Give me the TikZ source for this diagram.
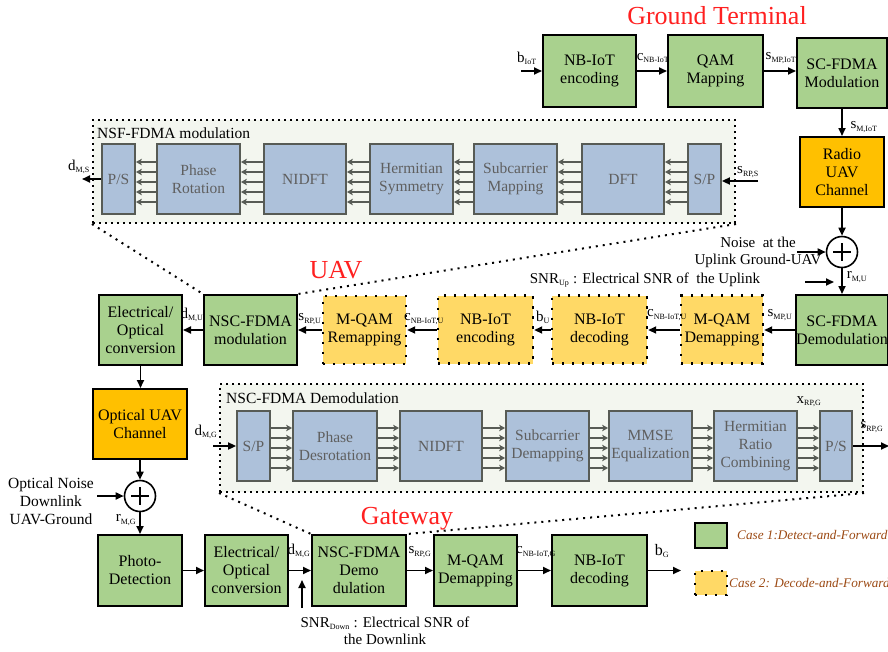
\documentclass[tikz,border=0pt]{standalone}
\usepackage{fontspec}
\setmainfont{Liberation Serif}
\usetikzlibrary{arrows.meta,calc}
\definecolor{gfill}{HTML}{A9D18E}
\definecolor{yfill}{HTML}{FFD966}
\definecolor{ofill}{HTML}{FFC000}
\definecolor{bfill}{HTML}{ADC1DA}
\definecolor{bdraw}{HTML}{575B55}
\definecolor{btext}{HTML}{5F5F5F}
\definecolor{rfill}{HTML}{F3F6EF}
\definecolor{tred}{HTML}{FF2020}
\definecolor{lbrown}{HTML}{9C4A14}
\newcommand\sbs[1]{\textsubscript{\fontsize{8}{8}\selectfont #1}}
\newcommand\fsb{\fontsize{16}{18}\selectfont}
\newcommand\fsm{\fontsize{15.5}{18}\selectfont}
\newcommand\fsl{\fontsize{15}{17}\selectfont}
\tikzset{
  gbox/.style={draw=black, line width=2pt, fill=gfill, inner sep=0pt, align=center, font=\fsb},
  ybox/.style={draw=black, line width=2.4pt, dash pattern=on 2.4pt off 7.6pt, fill=yfill, inner sep=0pt, align=center, font=\fsb},
  obox/.style={draw=black, line width=2pt, fill=ofill, inner sep=0pt, align=center, font=\fsb},
  bblk/.style={draw=bdraw, line width=1.8pt, fill=bfill, text=btext, inner sep=0pt, align=center, font=\fsm, minimum height=70pt},
  region/.style={draw=black, line width=2pt, dash pattern=on 2pt off 4pt, fill=rfill, inner sep=0pt},
  zline/.style={draw=black, line width=2pt, dash pattern=on 2pt off 5pt},
  arr/.style={line width=1.7pt, -{Triangle[length=8pt,width=7pt]}},
  garr/.style={draw=bdraw, line width=1.9pt, -{Stealth[length=6pt,width=6.5pt,inset=1.5pt]}},
  lbl/.style={font=\fsl, inner sep=0pt},
  ttl/.style={font=\fontsize{26}{28}\selectfont, text=tred, inner sep=0pt},
  sumc/.style={draw=black, line width=1.6pt, circle, minimum size=31pt, inner sep=0pt, fill=white},
  txt/.style={font=\fsl, inner sep=0pt, align=center},
}
\newcommand\leftarrows[2]{\foreach \d in {-17,-7,3,13,23} {\draw[garr] ($(#1.west)+(0,\d)$) -- ($(#2.east)+(0,\d)$);}}
\newcommand\rightarrows[2]{\foreach \d in {-18,-8,2,12,22} {\draw[garr] ($(#1.east)+(0,\d)$) -- ($(#2.west)+(0,\d)$);}}
\newcommand\plussign[1]{\draw[line width=1.6pt] ($(#1.center)+(-9,0)$) -- ($(#1.center)+(9,0)$) ($(#1.center)+(0,-9)$) -- ($(#1.center)+(0,9)$);}
\begin{document}
\begin{tikzpicture}[x=1pt,y=-1pt]
\useasboundingbox[fill=white] (0,0) rectangle (888,651);

% ---------- regions ----------
\node[region, minimum width=642pt, minimum height=103pt] (nsf) at (414,171.5) {};
\node[lbl, anchor=west, font=\fsm] (nsft) at (97,133) {NSF-FDMA modulation};
\node[region, minimum width=643pt, minimum height=108pt] (ncd) at (541.5,438) {};
\node[lbl, anchor=west, font=\fsm] (ncdt) at (226,398) {NSC-FDMA Demodulation};

% ---------- titles ----------
\node[ttl] (tgt) at (717,16) {Ground Terminal};
\node[ttl] (tuav) at (336,270) {UAV};
\node[ttl] (tgw) at (407,519) {Gateway};

% ---------- ground terminal ----------
\node[gbox, minimum width=93pt, minimum height=72pt] (gt1) at (589.5,71) {NB-IoT\\encoding};
\node[gbox, minimum width=95pt, minimum height=72pt] (gt2) at (715.5,71) {QAM\\Mapping};
\node[gbox, minimum width=90pt, minimum height=70pt] (gt3) at (842,73) {SC-FDMA\\Modulation};
\coordinate (bin) at (521,71);
\draw[arr] (bin) -- (gt1.west);
\draw[arr] (gt1.east) -- (gt2.west);
\draw[arr] (gt2.east) -- (gt3.west|-gt2.east);
\node[lbl] (lbiot) at (527,58) {b\sbs{IoT}};
\node[lbl] (lcnb) at (653,58) {c\sbs{NB-IoT}};
\node[lbl] (lsmp) at (781,58) {s\sbs{MP,IoT}};

\node[obox, minimum width=84pt, minimum height=70pt] (rch) at (842,172) {Radio\\UAV\\Channel};
\draw[arr] (gt3.south) -- (gt3.south|-rch.north);
\node[lbl] (lsmiot) at (864,127) {s\sbs{M,IoT}};

\node[sumc] (sum1) at (842,252) {};
\plussign{sum1}
\draw[arr] (rch.south) -- (sum1.north);
\coordinate (nz1) at (797,252);
\draw[arr] (nz1) -- (sum1.west);
\node[txt] (nz1t) at (758,252) {Noise~ at the\\Uplink Ground-UAV};

\node[gbox, minimum width=90pt, minimum height=70pt] (sfd) at (842,330) {SC-FDMA\\Demodulation};
\draw[arr] (sum1.south) -- (sfd.north);
\node[lbl] (lrmu) at (857,277) {r\sbs{M,U}};
\coordinate (snru) at (805,282);
\coordinate (snrut) at (834,282);
\draw[arr] (snru) -- (snrut);
\node[txt] (snrutxt) at (645,280) {SNR\sbs{Up} : Electrical SNR of~ the Uplink};

% ---------- NSF-FDMA modulation blocks ----------
\node[bblk, minimum width=33pt] (ps1) at (118.5,179) {P/S};
\node[bblk, minimum width=83pt] (pr) at (198.5,179) {Phase\\Rotation};
\node[bblk, minimum width=82pt] (nidft1) at (305,179) {NIDFT};
\node[bblk, minimum width=83pt] (hs) at (411.5,179) {Hermitian\\Symmetry};
\node[bblk, minimum width=83pt] (scm) at (515.5,179) {Subcarrier\\Mapping};
\node[bblk, minimum width=82pt] (dft) at (623,179) {DFT};
\node[bblk, minimum width=33pt] (sp1) at (704.5,179) {S/P};
\leftarrows{sp1}{dft}
\leftarrows{dft}{scm}
\leftarrows{scm}{hs}
\leftarrows{hs}{nidft1}
\leftarrows{nidft1}{pr}
\leftarrows{pr}{ps1}
\coordinate (nsfin) at (758,181);
\coordinate (nsfout) at (82,179);
\draw[arr] (nsfin) -- (sp1.east|-nsfin);
\draw[arr] (ps1.west) -- (nsfout);
\node[lbl] (lsrps) at (748,172) {s\sbs{RP,S}};
\node[lbl] (ldms) at (79,167) {d\sbs{M,S}};

% ---------- UAV row ----------
\node[ybox, minimum width=82pt, minimum height=68pt] (mqd) at (722,329.5) {M-QAM\\Demapping};
\node[ybox, minimum width=95pt, minimum height=68pt] (nbd) at (599.5,329.5) {NB-IoT\\decoding};
\node[ybox, minimum width=95pt, minimum height=68pt] (nbe) at (485.5,329.5) {NB-IoT\\encoding};
\node[ybox, minimum width=83pt, minimum height=68pt] (mqr) at (364.5,330) {M-QAM\\Remapping};
\node[gbox, minimum width=93pt, minimum height=70pt] (nscm) at (250.5,330) {NSC-FDMA\\modulation};
\node[gbox, minimum width=83pt, minimum height=70pt] (eo1) at (140.5,330) {Electrical/\\Optical\\conversion};
\draw[arr] (sfd.west) -- (mqd.east|-sfd.west);
\draw[arr] (mqd.west|-sfd.west) -- (nbd.east|-sfd.west);
\draw[arr] (nbd.west|-sfd.west) -- (nbe.east|-sfd.west);
\draw[arr] (nbe.west|-sfd.west) -- (mqr.east|-sfd.west);
\draw[arr] (mqr.west|-sfd.west) -- (nscm.east);
\draw[arr] (nscm.west) -- (eo1.east);
\node[lbl] (lsmpu) at (780,315) {s\sbs{MP,U}};
\node[lbl] (lcnbu1) at (667,315) {c\sbs{NB-IoT,U}};
\node[lbl] (lbu) at (543,317) {b\sbs{U}};
\node[lbl] (lcnbu2) at (424,319) {c\sbs{NB-IoT,U}};
\node[lbl] (lsrpu) at (310,319) {s\sbs{RP,U}};
\node[lbl] (ldmu) at (192,315) {d\sbs{M,U}};

% zoom lines
\draw[zline] (nsf.south west) -- (nscm.north west);
\draw[zline] (nsf.south east) -- (nscm.north east);

% ---------- left column ----------
\node[obox, minimum width=94pt, minimum height=70pt] (och) at (140,424) {Optical UAV\\Channel};
\draw[arr] (eo1.south) -- (eo1.south|-och.north);
\node[sumc] (sum2) at (140,496) {};
\plussign{sum2}
\draw[arr] (och.south) -- (sum2.north);
\coordinate (nz2) at (97,496);
\draw[arr] (nz2) -- (sum2.west);
\node[txt, font=\fontsize{15.5}{18}\selectfont] (nz2t) at (51,501) {Optical Noise\\Downlink\\UAV-Ground};

% ---------- bottom row ----------
\node[gbox, minimum width=84pt, minimum height=71pt] (pd) at (140,570.5) {Photo-\\Detection};
\node[gbox, minimum width=83pt, minimum height=71pt] (eo2) at (246.5,570.5) {Electrical/\\Optical\\conversion};
\node[gbox, minimum width=94pt, minimum height=71pt] (nscd) at (359,570.5) {NSC-FDMA\\Demo\\dulation};
\node[gbox, minimum width=83pt, minimum height=71pt] (mqd2) at (475.5,570.5) {M-QAM\\Demapping};
\node[gbox, minimum width=95pt, minimum height=71pt] (nbd2) at (599.5,570.5) {NB-IoT\\decoding};
\draw[arr] (sum2.south) -- (pd.north);
\draw[arr] (pd.east) -- (eo2.west);
\draw[arr] (eo2.east) -- (nscd.west);
\draw[arr] (nscd.east) -- (mqd2.west);
\draw[arr] (mqd2.east) -- (nbd2.west);
\coordinate (bgout) at (681,570.5);
\draw[arr] (nbd2.east) -- (bgout);
\coordinate (snrd) at (302,608);
\coordinate (snrdt) at (302,580);
\draw[arr] (snrd) -- (snrdt);
\node[lbl] (lrmg) at (126,520) {r\sbs{M,G}};
\node[lbl] (ldmg2) at (299,551) {d\sbs{M,G}};
\node[lbl] (lsrpg2) at (420,552) {s\sbs{RP,G}};
\node[lbl] (lcnbg) at (536,552) {c\sbs{NB-IoT,G}};
\node[lbl, font=\fontsize{16}{18}\selectfont] (lbg) at (662,551) {b\sbs{G}};
\node[txt] (snrdtxt) at (385,631) {SNR\sbs{Down} : Electrical SNR of\\the Downlink};

% ---------- NSC-FDMA demodulation blocks ----------
\node[bblk, minimum width=33pt] (sp2) at (253.5,446) {S/P};
\node[bblk, minimum width=84pt] (pdr) at (335,446) {Phase\\Desrotation};
\node[bblk, minimum width=82pt] (nidft2) at (441,446) {NIDFT};
\node[bblk, minimum width=83pt] (scd) at (547.5,446) {Subcarrier\\Demapping};
\node[bblk, minimum width=83pt] (mmse) at (650.5,446) {MMSE\\Equalization};
\node[bblk, minimum width=83pt] (hrc) at (755.5,446) {Hermitian\\Ratio\\Combining};
\node[bblk, minimum width=32pt] (ps2) at (836,446) {P/S};
\rightarrows{sp2}{pdr}
\rightarrows{pdr}{nidft2}
\rightarrows{nidft2}{scd}
\rightarrows{scd}{mmse}
\rightarrows{mmse}{hrc}
\rightarrows{hrc}{ps2}
\coordinate (ncdin) at (213,446);
\coordinate (ncdout) at (889,446);
\draw[arr] (ncdin) -- (sp2.west);
\draw[arr] (ps2.east) -- (ncdout);
\node[lbl] (ldmg1) at (206,432) {d\sbs{M,G}};
\node[lbl] (lxrpg) at (809,402) {x\sbs{RP,G}};
\node[lbl] (lsrpg1) at (872,427) {s\sbs{RP,G}};

\draw[zline] (ncd.south west) -- (nscd.north west);
\draw[zline] (ncd.south east) -- (nscd.north east);

% ---------- legend ----------
\node[gbox, minimum width=32pt, minimum height=25pt] (lg1) at (711,535.5) {};
\node[ybox, minimum width=32pt, minimum height=24pt] (lg2) at (711,583) {};
\node[lbl, anchor=west, text=lbrown, font=\fontsize{13.2}{15}\selectfont\itshape] (lg1t) at (737,535) {Case 1:Detect-and-Forward};
\node[lbl, anchor=west, text=lbrown, font=\fontsize{13.2}{15}\selectfont\itshape] (lg2t) at (729,583) {Case 2: Decode-and-Forward};
\end{tikzpicture}
\end{document}
